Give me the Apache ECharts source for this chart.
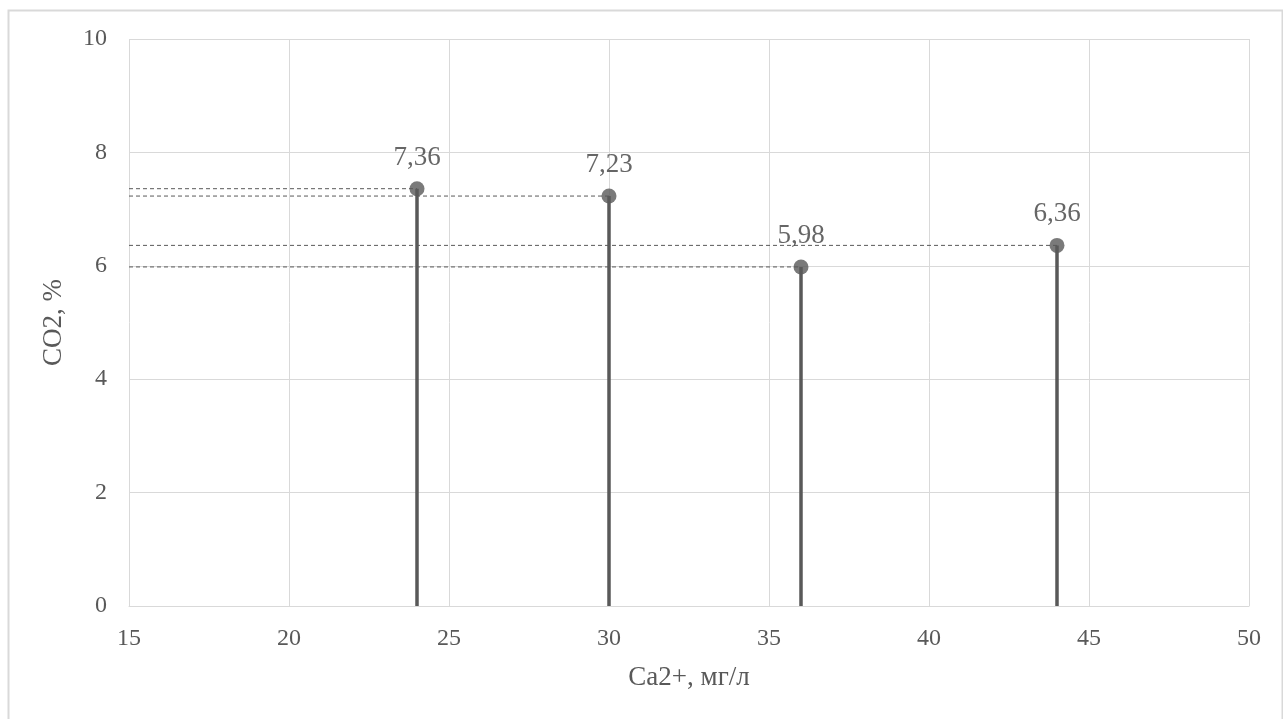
<!DOCTYPE html>
<html>
<head>
<meta charset="utf-8">
<script src="https://cdn.jsdelivr.net/npm/echarts@6/dist/echarts.min.js"></script>
<style>html,body{margin:0;padding:0;background:#fff}#c{width:1283px;height:719px}</style>
</head>
<body>
<div id="c"></div>
<script>
var xValues = [24, 30, 36, 44];
var yValues = [7.36, 7.23, 5.98, 6.36];
var labels = ['7,36', '7,23', '5,98', '6,36'];
var xName = 'Ca2+, мг/л';
var yName = 'CO2, %';

var pts = xValues.map(function (x, i) { return [x, yValues[i], labels[i]]; });
var FONT = '"Liberation Serif", "Times New Roman", serif';
var chart = echarts.init(document.getElementById('c'));
chart.setOption({
  animation: false,
  graphic: [{
    type: 'rect', shape: { x: 8.5, y: 10.5, width: 1274, height: 720 },
    style: { fill: 'none', stroke: '#d9d9d9', lineWidth: 2 }, silent: true
  }],
  grid: { left: 129, right: 34, top: 39, bottom: 113 },
  xAxis: {
    type: 'value', min: 15, max: 50, interval: 5,
    name: xName, nameLocation: 'middle', nameGap: 58,
    nameTextStyle: { fontFamily: FONT, fontSize: 27, color: '#595959' },
    axisLine: { show: true, lineStyle: { color: '#d9d9d9', width: 1 } },
    axisTick: { show: false },
    axisLabel: { fontFamily: FONT, fontSize: 24, color: '#595959', margin: 21 },
    splitLine: { show: true, lineStyle: { color: '#d9d9d9', width: 1 } }
  },
  yAxis: {
    type: 'value', min: 0, max: 10, interval: 2,
    name: yName, nameLocation: 'middle', nameGap: 62,
    nameTextStyle: { fontFamily: FONT, fontSize: 27, color: '#595959' },
    axisLine: { show: false },
    axisTick: { show: false },
    axisLabel: { fontFamily: FONT, fontSize: 24, color: '#595959', margin: 22 },
    splitLine: { show: true, lineStyle: { color: '#d9d9d9', width: 1 } }
  },
  series: [
    {
      type: 'custom',
      silent: true,
      z: 2,
      renderItem: function (params, api) {
        var x = api.value(0), y = api.value(1);
        var p = api.coord([x, y]);
        var p0 = api.coord([x, 0]);
        var pl = api.coord([15, y]);
        return {
          type: 'group',
          children: [
            { type: 'line', shape: { x1: pl[0], y1: p[1], x2: p[0], y2: p[1] },
              style: { stroke: '#595959', lineWidth: 1, lineDash: [4, 3] } },
            { type: 'line', shape: { x1: p0[0], y1: p0[1], x2: p[0], y2: p[1] },
              style: { stroke: '#595959', lineWidth: 3.5 } }
          ]
        };
      },
      data: pts
    },
    {
      type: 'scatter',
      symbol: 'circle',
      symbolSize: 15,
      z: 3,
      itemStyle: { color: '#595959' },
      label: {
        show: true, position: 'top', distance: 10,
        formatter: function (p) { return p.data[2]; },
        fontFamily: FONT, fontSize: 27, color: '#404040'
      },
      data: pts
    }
  ]
});
</script>
</body>
</html>
